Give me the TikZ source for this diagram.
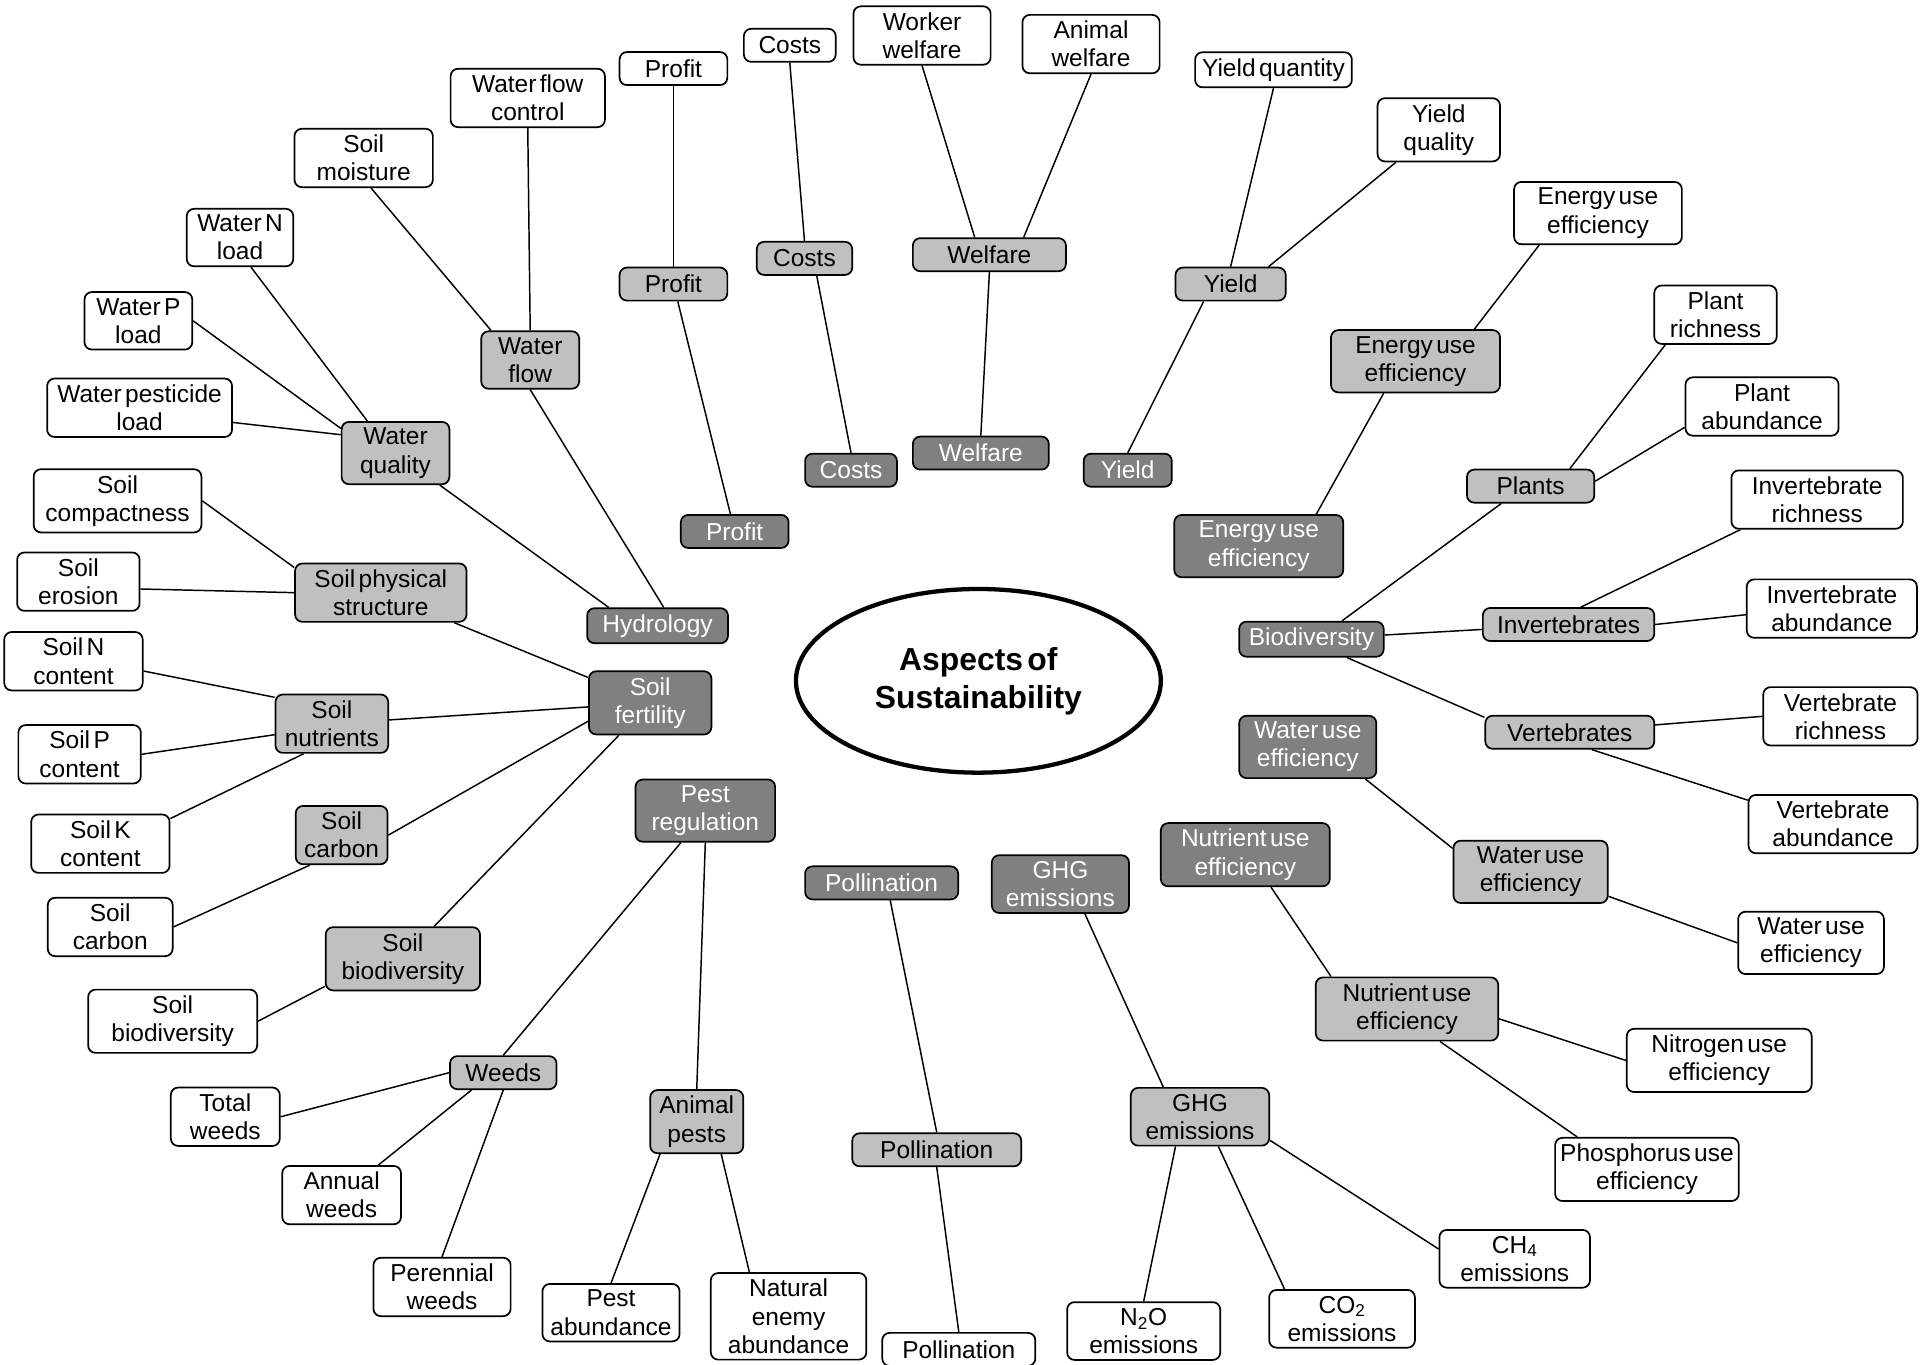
\documentclass[tikz,border=0pt]{standalone}
\usepackage{fontspec}
\setmainfont[WordSpace=0.5]{Liberation Sans}
\usepackage{tikz}
\usetikzlibrary{%
  shapes.geometric,%
}
\definecolor{topicgray}{RGB}{128,128,128}
\definecolor{themegray}{RGB}{192,192,192}

\begin{document}
\begin{tikzpicture}[x=1pt, y=-1pt, font=\fontsize{20}{23}\selectfont,
    aspect/.style={draw, line width=1.4pt, rounded corners=6pt, align=center, inner xsep=2pt, inner ysep=5pt, minimum height=27pt},
    topic/.style={aspect, fill=topicgray, text=white},
    theme/.style={aspect, fill=themegray},
    metric/.style={aspect, fill=white},
    link/.style={line width=1.2pt}]
  \useasboundingbox (0, 0) rectangle (1568, 1114);
  \node [ellipse, draw, line width=3.5pt, minimum width=298pt, minimum height=150pt, align=center, font=\fontsize{26}{31}\selectfont\bfseries] (aspects) at (799, 556) {Aspects of \\ Sustainability};

  % first ring
  \node [topic, minimum width=115pt] (hydro) at (537, 511) {Hydrology};
  \node [topic, minimum width=100pt] (soilfert) at (531, 574) {Soil \\ fertility};
  \node [topic, minimum width=114pt] (pestreg) at (576, 662) {Pest \\ regulation};
  \node [topic, minimum width=125pt] (pollD) at (720, 721) {Pollination};
  \node [topic, minimum width=112pt] (ghgD) at (866, 722) {GHG \\ emissions};
  \node [topic, minimum width=138pt] (nueD) at (1017, 698) {Nutrient use \\ efficiency};
  \node [topic, minimum width=112pt] (wueD) at (1068, 610) {Water use \\ efficiency};
  \node [topic, minimum width=118pt] (bio) at (1071, 522) {Biodiversity};
  \node [topic, minimum width=138pt] (eueD) at (1028, 446) {Energy use \\ efficiency};
  \node [topic, minimum width=72pt] (yieldD) at (921, 384) {Yield};
  \node [topic, minimum width=111pt] (welfD) at (801, 370) {Welfare};
  \node [topic, minimum width=75pt] (costD) at (695, 384) {Costs};
  \node [topic, minimum width=88pt] (profD) at (600, 434) {Profit};

  % second ring
  \node [theme, minimum width=80pt] (wflow) at (433, 294) {Water \\ flow};
  \node [theme, minimum width=88pt] (wqual) at (323, 370) {Water \\ quality};
  \node [theme, minimum width=140pt] (sps) at (311, 484) {Soil physical \\ structure};
  \node [theme, minimum width=92pt] (nutr) at (271, 591) {Soil \\ nutrients};
  \node [theme, minimum width=75pt] (scarb) at (279, 682) {Soil \\ carbon};
  \node [theme, minimum width=126pt] (sbio) at (329, 783) {Soil \\ biodiversity};
  \node [theme, minimum width=87pt] (weeds) at (411, 876) {Weeds};
  \node [theme, minimum width=76pt] (apests) at (569, 916) {Animal \\ pests};
  \node [theme, minimum width=138pt] (pollL) at (765, 939) {Pollination};
  \node [theme, minimum width=113pt] (ghgL) at (980, 912) {GHG \\ emissions};
  \node [theme, minimum width=149pt] (nueL) at (1149, 824) {Nutrient use \\ efficiency};
  \node [theme, minimum width=126pt] (wueL) at (1250, 712) {Water use \\ efficiency};
  \node [theme, minimum width=138pt] (vert) at (1282, 598) {Vertebrates};
  \node [theme, minimum width=140pt] (inv) at (1281, 510) {Invertebrates};
  \node [theme, minimum width=104pt] (plants) at (1250, 397) {Plants};
  \node [theme, minimum width=138pt] (eueL) at (1156, 295) {Energy use \\ efficiency};
  \node [theme, minimum width=90pt] (yieldL) at (1005, 232) {Yield};
  \node [theme, minimum width=125pt] (welfL) at (808, 208) {Welfare};
  \node [theme, minimum width=78pt] (costL) at (657, 211) {Costs};
  \node [theme, minimum width=88pt] (profL) at (550, 232) {Profit};

  % outer ring
  \node [metric, minimum width=126pt] (wfc) at (431, 80) {Water flow \\ control};
  \node [metric, minimum width=113pt] (smoist) at (297, 129) {Soil \\ moisture};
  \node [metric, minimum width=87pt] (wN) at (196, 194) {Water N \\ load};
  \node [metric, minimum width=88pt] (wP) at (113, 262) {Water P \\ load};
  \node [metric, minimum width=151pt] (wpest) at (114, 333) {Water pesticide \\ load};
  \node [metric, minimum width=137pt] (scompact) at (96, 409) {Soil \\ compactness};
  \node [metric, minimum width=100pt] (serosion) at (64, 475) {Soil \\ erosion};
  \node [metric, minimum width=113pt] (sN) at (60, 540) {Soil N \\ content};
  \node [metric, minimum width=100pt] (sP) at (65, 616) {Soil P \\ content};
  \node [metric, minimum width=113pt] (sK) at (82, 689) {Soil K \\ content};
  \node [metric, minimum width=102pt] (scarbW) at (90, 757) {Soil \\ carbon};
  \node [metric, minimum width=138pt] (sbioW) at (141, 834) {Soil \\ biodiversity};
  \node [metric, minimum width=89pt] (tweeds) at (184, 912) {Total \\ weeds};
  \node [metric, minimum width=97pt] (aweeds) at (279, 976) {Annual \\ weeds};
  \node [metric, minimum width=112pt] (pweeds) at (361, 1051) {Perennial \\ weeds};
  \node [metric, minimum width=112pt] (pabund) at (499, 1072) {Pest \\ abundance};
  \node [metric, minimum width=127pt] (natenemy) at (644, 1075) {Natural \\ enemy \\ abundance};
  \node [metric, minimum width=125pt] (pollW) at (783, 1102) {Pollination};
  \node [metric, minimum width=125pt] (n2o) at (934, 1087) {N\textsubscript{2}O \\ emissions};
  \node [metric, minimum width=119pt] (co2) at (1096, 1077) {CO\textsubscript{2} \\ emissions};
  \node [metric, minimum width=123pt] (ch4) at (1237, 1028) {CH\textsubscript{4} \\ emissions};
  \node [metric, minimum width=150pt] (phos) at (1345, 955) {Phosphorus use \\ efficiency};
  \node [metric, minimum width=151pt] (nitro) at (1404, 866) {Nitrogen use \\ efficiency};
  \node [metric, minimum width=119pt] (wueW) at (1479, 770) {Water use \\ efficiency};
  \node [metric, minimum width=138pt] (vabund) at (1497, 673) {Vertebrate \\ abundance};
  \node [metric, minimum width=126pt] (vrich) at (1503, 585) {Vertebrate \\ richness};
  \node [metric, minimum width=139pt] (iabund) at (1496, 497) {Invertebrate \\ abundance};
  \node [metric, minimum width=140pt] (irich) at (1484, 408) {Invertebrate \\ richness};
  \node [metric, minimum width=125pt] (pabundW) at (1439, 332) {Plant \\ abundance};
  \node [metric, minimum width=100pt] (prich) at (1401, 257) {Plant \\ richness};
  \node [metric, minimum width=137pt] (eueW) at (1305, 174) {Energy use \\ efficiency};
  \node [metric, minimum width=100pt] (yqual) at (1175, 106) {Yield \\ quality};
  \node [metric, minimum width=128pt] (yquant) at (1040, 57) {Yield quantity};
  \node [metric, minimum width=112pt] (animal) at (891, 36) {Animal \\ welfare};
  \node [metric, minimum width=112pt] (worker) at (753, 29) {Worker \\ welfare};
  \node [metric, minimum width=75pt] (costW) at (645, 37) {Costs};
  \node [metric, minimum width=88pt] (profW) at (550, 56) {Profit};

  % first to second ring
  \draw [link] ([xshift=5pt]hydro.north) -- (wflow.south);
  \draw [link] ([xshift=-40pt]hydro.north) -- (wqual);
  \draw [link] (soilfert) -- (sps);
  \draw [link] (soilfert) -- (nutr);
  \draw [link] ([yshift=-15pt]soilfert.west) -- (scarb.east);
  \draw [link] (soilfert) -- (sbio);
  \draw [link] ([xshift=-20pt]pestreg.south) -- (weeds.north);
  \draw [link] (pestreg.south) -- (apests.north);
  \draw [link] ([xshift=7pt]pollD.south) -- (pollL.north);
  \draw [link] ([xshift=20pt]ghgD.south) -- ([xshift=-30pt]ghgL.north);
  \draw [link] ([xshift=21pt]nueD.south) -- ([xshift=-62pt]nueL.north);
  \draw [link] ([xshift=47pt]wueD.south) -- ([yshift=-7pt]wueL.north west);
  \draw [link] ([xshift=25pt]bio.north) -- ([xshift=-24pt]plants.south);
  \draw [link] (bio) -- (inv);
  \draw [link] ([xshift=29pt]bio.south) -- ([yshift=-2pt]vert.north west);
  \draw [link] ([xshift=47pt]eueD.north) -- ([xshift=-26pt]eueL.south);
  \draw [link] (yieldD.north) -- ([xshift=-22pt]yieldL.south);
  \draw [link] (welfD.north) -- (welfL.south);
  \draw [link] (costD.north) -- ([xshift=10pt]costL.south);
  \draw [link] (profD) -- (profL);

  % second to outer ring
  \draw [link] (wflow.north) -- (wfc.south);
  \draw [link] ([xshift=-32pt]wflow.north) -- ([xshift=6pt]smoist.south);
  \draw [link] ([xshift=-23pt]wqual.north) -- ([xshift=9pt]wN.south);
  \draw [link] ([yshift=-6pt]wqual.north west) -- (wP.east);
  \draw [link] ([yshift=15pt]wqual.west) -- ([yshift=-12pt]wpest.east);
  \draw [link] ([yshift=-4pt]sps.north west) -- (scompact.east);
  \draw [link] (sps.west) -- ([yshift=-6pt]serosion.east);
  \draw [link] ([yshift=-3pt]nutr.north west) -- ([yshift=-8pt]sN.east);
  \draw [link] ([yshift=-9pt]nutr.west) -- (sP.east);
  \draw [link] ([xshift=-23pt]nutr.south) -- ([yshift=-4pt]sK.north east);
  \draw [link] ([xshift=-26pt]scarb.south) -- (scarbW.east);
  \draw [link] ([yshift=4pt]sbio.south west) -- (sbioW.east);
  \draw [link] (weeds.west) -- (tweeds.east);
  \draw [link] ([xshift=-26pt]weeds.south) -- ([xshift=30pt]aweeds.north);
  \draw [link] (weeds.south) -- (pweeds.north);
  \draw [link] ([xshift=-30pt]apests.south) -- (pabund.north);
  \draw [link] ([xshift=20pt]apests.south) -- ([xshift=-32pt]natenemy.north);
  \draw [link] (pollL.south) -- (pollW.north);
  \draw [link] ([xshift=-20pt]ghgL.south) -- (n2o.north);
  \draw [link] ([xshift=15pt]ghgL.south) -- ([xshift=-47pt]co2.north);
  \draw [link] ([yshift=5pt]ghgL.south east) -- ([yshift=8pt]ch4.west);
  \draw [link] ([yshift=-8pt]nueL.east) -- (nitro.west);
  \draw [link] ([xshift=27pt]nueL.south) -- ([xshift=-57pt]phos.north);
  \draw [link] ([yshift=-20pt]wueL.east) -- (wueW.west);
  \draw [link] ([yshift=6pt]vert.east) -- (vrich.west);
  \draw [link] ([xshift=18pt]vert.south) -- ([yshift=-5pt]vabund.north west);
  \draw [link] ([xshift=10pt]inv.north) -- ([xshift=8pt]irich.south west);
  \draw [link] (inv.east) -- ([yshift=-5pt]iabund.west);
  \draw [link] ([xshift=32pt]plants.north) -- ([xshift=-41pt]prich.south);
  \draw [link] ([yshift=4pt]plants.east) -- ([yshift=-17pt]pabundW.west);
  \draw [link] ([xshift=48pt]eueL.north) -- ([xshift=-48pt]eueW.south);
  \draw [link] ([xshift=31pt]yieldL.north) -- ([xshift=-35pt]yqual.south);
  \draw [link] (yieldL.north) -- (yquant.south);
  \draw [link] ([xshift=-12pt]welfL.north) -- (worker.south);
  \draw [link] ([xshift=28pt]welfL.north) -- (animal.south);
  \draw [link] (costL.north) -- (costW.south);
  \draw [link] (profL.north) -- (profW.south);
\end{tikzpicture}
\end{document}
